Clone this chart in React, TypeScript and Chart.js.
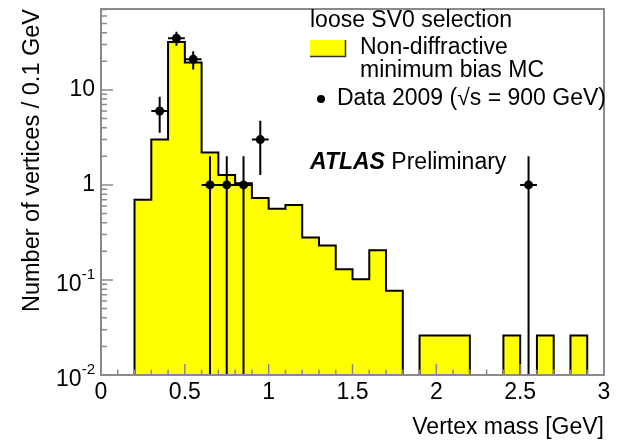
import React, { useEffect, useRef } from "react";
import { Chart, registerables } from "chart.js";

Chart.register(...registerables);

const FONT = "'Liberation Sans', Arial, Helvetica, sans-serif";

// Vertex mass binning: 30 bins of 0.1 GeV between 0 and 3 GeV
const BIN_START = 0;
const BIN_WIDTH = 0.1;

// Non-diffractive minimum bias MC, entries per 0.1 GeV bin
const MC_COUNTS = [
  0, 0, 0.7, 3.0, 32, 19.4, 2.2, 1.27, 1.04, 0.73,
  0.56, 0.615, 0.28, 0.23, 0.13, 0.102, 0.205, 0.077, 0, 0.026,
  0.026, 0.026, 0, 0, 0.026, 0, 0.026, 0, 0.026, 0,
];

// Data 2009, bin centres, counts and uncertainties
const DATA_MASS = [0.35, 0.45, 0.55, 0.65, 0.75, 0.85, 0.95, 2.55];
const DATA_COUNTS = [6, 35, 21, 1, 1, 1, 3, 1];
const DATA_ERRORS = [2.45, 5.92, 4.58, 1, 1, 1, 1.73, 1];

// Axes
const X_MIN = 0;
const X_MAX = 3;
const X_TICKS = [0, 0.5, 1, 1.5, 2, 2.5, 3];
const Y_MIN = 0.01;
const Y_MAX = 71;
const Y_TICKS = [0.01, 0.1, 1, 10];
const Y_TICK_BASE = ["10", "10", "1", "10"];
const Y_TICK_EXP = ["-2", "-1", "", ""];

const X_TITLE = "Vertex mass [GeV]";
const Y_TITLE = "Number of vertices / 0.1 GeV";

const LEGEND_HEADER = "loose SV0 selection";
const MC_LABEL = ["Non-diffractive", "minimum bias MC"];
const DATA_LABEL = "Data 2009 (√s = 900 GeV)";

const YELLOW = "#ffff00";
const AXIS_GREY = "#8a8a8a";
const TEXT_SIZE = 23;

// Stepped outline of the MC histogram: one point per lower bin edge plus the closing edge
const mcPoints = MC_COUNTS.map((v, i) => ({
  x: BIN_START + i * BIN_WIDTH,
  y: v > 0 ? v : Y_MIN,
}));
mcPoints.push({ x: BIN_START + MC_COUNTS.length * BIN_WIDTH, y: Y_MIN });

// Error bars as broken line segments (null separates the pieces)
const errorPoints: { x: number; y: number | null }[] = [];
DATA_MASS.forEach((m, i) => {
  const v = DATA_COUNTS[i];
  const e = DATA_ERRORS[i];
  errorPoints.push({ x: m, y: Math.max(v - e, Y_MIN) }, { x: m, y: v + e }, { x: m, y: null });
  errorPoints.push(
    { x: m - BIN_WIDTH / 2, y: v },
    { x: m + BIN_WIDTH / 2, y: v },
    { x: m, y: null }
  );
});

const dataPoints = DATA_MASS.map((m, i) => ({ x: m, y: DATA_COUNTS[i] }));

const decorations = {
  id: "atlasDecorations",
  afterDatasetsDraw(chart: any) {
    const { ctx, chartArea: a, scales } = chart;
    const xs = scales.x;
    const ys = scales.y;
    ctx.save();

    // inner tick marks
    ctx.strokeStyle = AXIS_GREY;
    ctx.lineWidth = 1.5;
    ctx.beginPath();
    const nx = Math.round((X_MAX - X_MIN) / BIN_WIDTH);
    for (let i = 0; i <= nx; i++) {
      const px = xs.getPixelForValue(X_MIN + i * BIN_WIDTH);
      const len = i % 5 === 0 ? 11 : 5.5;
      ctx.moveTo(px, a.bottom);
      ctx.lineTo(px, a.bottom - len);
    }
    for (let e = -2; e <= 2; e++) {
      for (let m = 1; m <= 9; m++) {
        const v = m * Math.pow(10, e);
        if (v < Y_MIN || v > Y_MAX) continue;
        const py = ys.getPixelForValue(v);
        const len = m === 1 ? 12 : 6;
        ctx.moveTo(a.left, py);
        ctx.lineTo(a.left + len, py);
      }
    }
    ctx.stroke();

    // frame
    ctx.lineWidth = 2;
    ctx.strokeRect(a.left, a.top, a.right - a.left, a.bottom - a.top);

    // y tick labels with exponents
    ctx.fillStyle = "#000";
    ctx.textBaseline = "middle";
    Y_TICKS.forEach((v, i) => {
      const py = ys.getPixelForValue(v);
      ctx.textAlign = "right";
      if (Y_TICK_EXP[i]) {
        ctx.font = `15px ${FONT}`;
        const expW = ctx.measureText(Y_TICK_EXP[i]).width;
        ctx.fillText(Y_TICK_EXP[i], 95, py - 5);
        ctx.font = `${TEXT_SIZE}px ${FONT}`;
        ctx.fillText(Y_TICK_BASE[i], 95 - expW, py + 5);
      } else {
        ctx.font = `${TEXT_SIZE}px ${FONT}`;
        ctx.fillText(Y_TICK_BASE[i], 95, py);
      }
    });

    // legend
    ctx.textAlign = "left";
    ctx.font = `${TEXT_SIZE}px ${FONT}`;
    ctx.fillText(LEGEND_HEADER, 310, 21);
    ctx.fillStyle = YELLOW;
    ctx.fillRect(310, 40, 35, 16);
    ctx.strokeStyle = "#333";
    ctx.lineWidth = 1.5;
    ctx.beginPath();
    ctx.moveTo(310, 56.5);
    ctx.lineTo(345.5, 56.5);
    ctx.lineTo(345.5, 40);
    ctx.stroke();
    ctx.fillStyle = "#000";
    ctx.fillText(MC_LABEL[0], 360, 48);
    ctx.fillText(MC_LABEL[1], 360, 71);
    ctx.beginPath();
    ctx.arc(321, 99, 4, 0, Math.PI * 2);
    ctx.fill();
    ctx.fillText(DATA_LABEL, 337, 99);

    // experiment label
    ctx.font = `italic bold ${TEXT_SIZE}px ${FONT}`;
    ctx.fillText("ATLAS", 310, 163);
    const w = ctx.measureText("ATLAS").width;
    ctx.font = `${TEXT_SIZE}px ${FONT}`;
    ctx.fillText(" Preliminary", 310 + w, 163);

    ctx.restore();
  },
};

export default function App() {
  const canvasRef = useRef<HTMLCanvasElement | null>(null);

  useEffect(() => {
    const canvas = canvasRef.current;
    if (!canvas) return;
    const chart = new Chart(canvas, {
      type: "line",
      data: {
        datasets: [
          {
            type: "line",
            label: MC_LABEL.join(" "),
            data: mcPoints,
            stepped: "before",
            fill: "start",
            backgroundColor: YELLOW,
            borderColor: "#000",
            borderWidth: 2,
            pointRadius: 0,
            order: 3,
          },
          {
            type: "line",
            label: "errors",
            data: errorPoints,
            spanGaps: false,
            fill: false,
            borderColor: "#000",
            borderWidth: 2,
            pointRadius: 0,
            order: 2,
          },
          {
            type: "scatter",
            label: DATA_LABEL,
            data: dataPoints,
            backgroundColor: "#000",
            borderColor: "#000",
            pointRadius: 4.5,
            pointBorderWidth: 0,
            order: 1,
          },
        ],
      } as any,
      options: {
        animation: false,
        responsive: false,
        layout: { padding: { top: 9, right: 17, left: 0, bottom: 0 } },
        plugins: {
          legend: { display: false },
          tooltip: { enabled: false },
        },
        scales: {
          x: {
            type: "linear",
            min: X_MIN,
            max: X_MAX,
            grid: { display: false },
            border: { display: false },
            afterBuildTicks: (s: any) => {
              s.ticks = X_TICKS.map((v) => ({ value: v }));
            },
            afterFit: (s: any) => {
              s.height = 66;
            },
            ticks: {
              color: "#000",
              font: { family: FONT, size: TEXT_SIZE },
              padding: -4,
              maxRotation: 0,
              autoSkip: false,
              callback: (v: any) => String(v),
            },
            title: {
              display: true,
              text: X_TITLE,
              align: "end",
              color: "#000",
              font: { family: FONT, size: TEXT_SIZE },
              padding: { top: 0, bottom: 0 },
            },
          },
          y: {
            type: "logarithmic",
            min: Y_MIN,
            max: Y_MAX,
            grid: { display: false },
            border: { display: false },
            ticks: { display: false },
            afterFit: (s: any) => {
              s.width = 101;
            },
            title: {
              display: true,
              text: Y_TITLE,
              align: "end",
              color: "#000",
              font: { family: FONT, size: 23.5 },
              padding: { top: 18, bottom: 0 },
            },
          },
        },
      } as any,
      plugins: [decorations],
    });
    return () => chart.destroy();
  }, []);

  return (
    <div style={{ position: "absolute", left: 0, top: 0, width: 621, height: 441, background: "#fff" }}>
      <canvas ref={canvasRef} width={621} height={441} style={{ display: "block" }} />
    </div>
  );
}
